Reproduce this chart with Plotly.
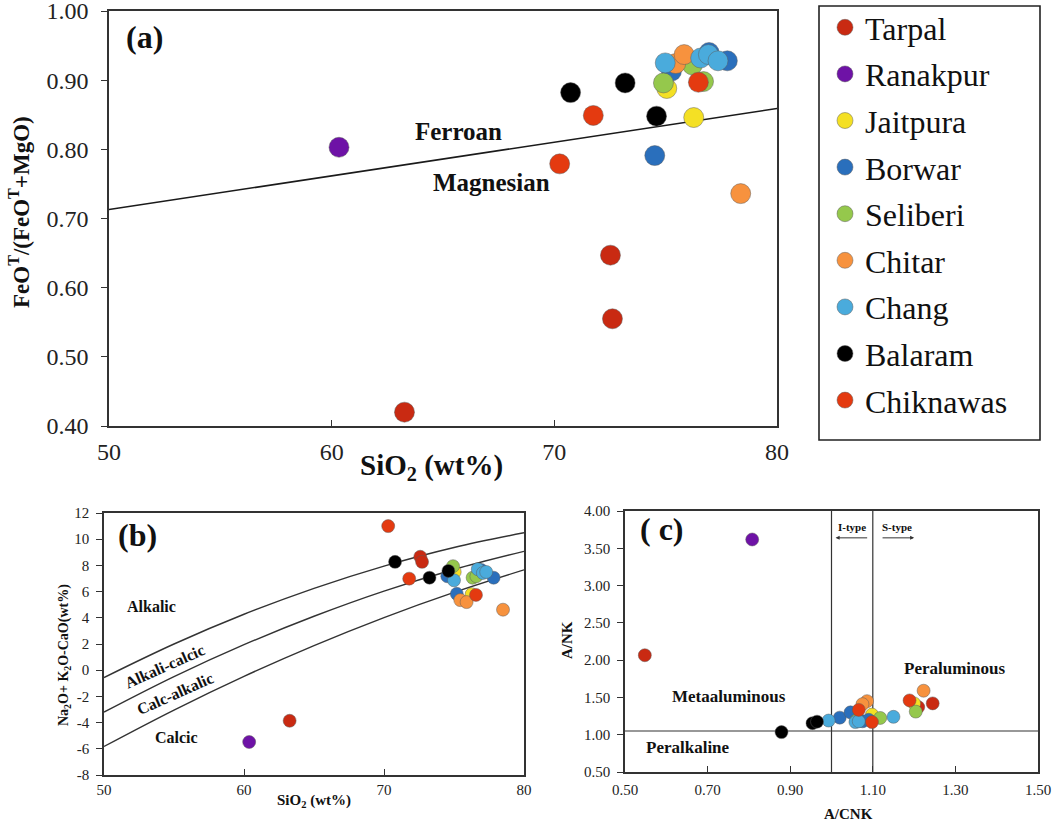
import plotly.graph_objects as go

# ---------------- data ----------------
groups = ["Tarpal", "Ranakpur", "Jaitpura", "Borwar", "Seliberi", "Chitar", "Chang", "Balaram", "Chiknawas"]
colors = ["#C92A12", "#6E12A6", "#F4E024", "#2A6FBC", "#95C84C", "#F7923E", "#4AABDC", "#000000", "#E43A10"]

# panel (a): SiO2 vs FeOT/(FeOT+MgO)
a_group = ["Tarpal", "Tarpal", "Tarpal",
           "Ranakpur",
           "Jaitpura", "Jaitpura",
           "Borwar", "Borwar", "Borwar", "Borwar",
           "Seliberi", "Seliberi", "Seliberi",
           "Chitar", "Chitar", "Chitar",
           "Chang", "Chang", "Chang", "Chang",
           "Balaram", "Balaram", "Balaram",
           "Chiknawas", "Chiknawas", "Chiknawas"]
a_sio2 = [63.27, 72.52, 72.61,
          60.33,
          76.26, 75.05,
          74.51, 75.26, 76.95, 77.77,
          74.90, 76.70, 76.20,
          78.37, 75.45, 75.83,
          74.98, 76.57, 76.92, 77.35,
          70.73, 73.18, 74.59,
          70.24, 71.75, 76.47]
a_fe = [0.420, 0.647, 0.555,
        0.803,
        0.846, 0.888,
        0.791, 0.913, 0.940, 0.928,
        0.896, 0.898, 0.922,
        0.736, 0.924, 0.937,
        0.925, 0.932, 0.937, 0.928,
        0.882, 0.896, 0.848,
        0.779, 0.849, 0.897]
a_line_sio2 = [50, 80]
a_line_fe = [0.713, 0.859]
a_xticks = [50, 60, 70, 80]
a_yticks = [0.40, 0.50, 0.60, 0.70, 0.80, 0.90, 1.00]

# panel (b): SiO2 vs MALI
b_group = a_group
b_sio2 = [63.26, 72.59, 72.72,
          60.37,
          75.05, 76.26,
          74.52, 75.20, 76.95, 77.83,
          74.93, 76.33, 76.60,
          78.50, 75.45, 75.90,
          75.00, 76.70, 77.06, 77.30,
          70.79, 73.25, 74.60,
          70.30, 71.80, 76.57]
b_mali = [-3.86, 8.66, 8.27,
          -5.48,
          7.50, 5.80,
          7.17, 5.83, 7.65, 7.06,
          7.94, 7.06, 7.17,
          4.62, 5.35, 5.20,
          6.86, 7.71, 7.42, 7.50,
          8.27, 7.06, 7.58,
          11.00, 6.99, 5.75]
b_curve_sio2 = [50, 55, 60, 65, 70, 75, 80]
b_curve_alkalic = [-0.56, 2.00, 4.27, 6.25, 7.95, 9.37, 10.49]
b_curve_alkcalcic = [-3.20, -0.49, 1.95, 4.12, 6.04, 7.69, 9.07]
b_curve_calcalk = [-5.82, -3.04, -0.47, 1.88, 4.02, 5.94, 7.66]
b_xticks = [50, 60, 70, 80]
b_yticks = [-8, -6, -4, -2, 0, 2, 4, 6, 8, 10, 12]

# panel (c): A/CNK vs A/NK
c_group = a_group
c_acnk = [0.548, 1.245, 1.210,
          0.808,
          1.098, 1.200,
          1.020, 1.046, 1.075, 1.090,
          1.060, 1.118, 1.204,
          1.223, 1.086, 1.075,
          0.993, 1.058, 1.066, 1.150,
          0.879, 0.954, 0.965,
          1.066, 1.098, 1.189]
c_ank = [2.066, 1.420, 1.370,
         3.618,
         1.270, 1.420,
         1.229, 1.300, 1.180, 1.200,
         1.190, 1.225, 1.310,
         1.590, 1.450, 1.410,
         1.190, 1.170, 1.180, 1.240,
         1.035, 1.155, 1.175,
         1.333, 1.170, 1.460]
c_hline_ank = 1.05
c_vline_itype = 1.0
c_vline_stype = 1.1
c_xticks = [0.50, 0.70, 0.90, 1.10, 1.30, 1.50]
c_yticks = [0.50, 1.00, 1.50, 2.00, 2.50, 3.00, 3.50, 4.00]

# ---------------- figure ----------------
FONT = "Liberation Serif, Times New Roman, serif"
fig = go.Figure()

def add_points(xs, ys, grp, xa, ya, size, show):
    for g, col in zip(groups, colors):
        px = [x for x, gg in zip(xs, grp) if gg == g]
        py = [y for y, gg in zip(ys, grp) if gg == g]
        fig.add_trace(go.Scatter(
            x=px, y=py, mode="markers", name=g, legendgroup=g, showlegend=show,
            xaxis=xa, yaxis=ya,
            marker=dict(color=col, size=size, line=dict(color="rgba(90,90,90,0.6)", width=0.8))))

# boundary lines
fig.add_trace(go.Scatter(x=a_line_sio2, y=a_line_fe, mode="lines", xaxis="x", yaxis="y",
                         line=dict(color="#1a1a1a", width=1.6), showlegend=False, hoverinfo="skip"))
for cy in (b_curve_alkalic, b_curve_alkcalcic, b_curve_calcalk):
    fig.add_trace(go.Scatter(x=b_curve_sio2, y=cy, mode="lines", xaxis="x2", yaxis="y2",
                             line=dict(color="#333333", width=1.4, shape="spline"),
                             showlegend=False, hoverinfo="skip"))
fig.add_trace(go.Scatter(x=[0.5, 1.5], y=[c_hline_ank, c_hline_ank], mode="lines", xaxis="x3", yaxis="y3",
                         line=dict(color="#333333", width=1.2), showlegend=False, hoverinfo="skip"))
for vx in (c_vline_itype, c_vline_stype):
    fig.add_trace(go.Scatter(x=[vx, vx], y=[0.5, 4.0], mode="lines", xaxis="x3", yaxis="y3",
                             line=dict(color="#333333", width=1.2), showlegend=False, hoverinfo="skip"))

add_points(a_sio2, a_fe, a_group, "x", "y", 20, True)
add_points(b_sio2, b_mali, b_group, "x2", "y2", 13, False)
add_points(c_acnk, c_ank, c_group, "x3", "y3", 13, False)

def xax(domain, rng, ticks, fmt, tsize, standoff):
    return dict(domain=domain, range=rng, tickmode="array", tickvals=ticks,
                ticktext=[format(t, fmt) for t in ticks],
                showgrid=False, zeroline=False, showline=True, linecolor="#333333", linewidth=1.6,
                mirror=True, ticks="inside", ticklen=6, tickcolor="#333333",
                tickfont=dict(family=FONT, size=tsize, color="#222222"),
                ticklabelstandoff=standoff, ticklabeloverflow="allow", automargin=False)

def yax(domain, rng, ticks, fmt, tsize, anchor, standoff):
    return dict(domain=domain, range=rng, tickmode="array", tickvals=ticks,
                ticktext=[format(t, fmt) for t in ticks], anchor=anchor,
                showgrid=False, zeroline=False, showline=True, linecolor="#333333", linewidth=1.6,
                mirror=True, ticks="outside", ticklen=6, tickcolor="#333333",
                tickfont=dict(family=FONT, size=tsize, color="#222222"),
                ticklabelstandoff=standoff, ticklabeloverflow="allow", automargin=False)

W, H = 1056, 827
def px_x(p): return p / W
def px_y(p): return 1 - p / H

fig.update_layout(
    width=W, height=H, margin=dict(l=0, r=0, t=0, b=0), autosize=False,
    paper_bgcolor="white", plot_bgcolor="white",
    xaxis=xax([px_x(109), px_x(777)], [50, 80], a_xticks, "d", 24, 3),
    yaxis=yax([px_y(426), px_y(11)], [0.4, 1.0], a_yticks, ".2f", 24, "x", 8),
    xaxis2=dict(xax([px_x(104), px_x(524)], [50, 80], b_xticks, "d", 15, 0), anchor="y2"),
    yaxis2=yax([px_y(775), px_y(513)], [-8, 12], b_yticks, "d", 15, "x2", 4),
    xaxis3=dict(xax([px_x(625), px_x(1038)], [0.5, 1.5], c_xticks, ".2f", 15, 3), anchor="y3"),
    yaxis3=yax([px_y(772), px_y(511)], [0.5, 4.0], c_yticks, ".2f", 15, "x3", 4),
    legend=dict(x=px_x(825), y=1.0, xanchor="left", yanchor="top",
                font=dict(family=FONT, size=32, color="#111111"),
                bgcolor="rgba(0,0,0,0)", borderwidth=0, itemsizing="trace",
                tracegroupgap=2, traceorder="grouped"),
    showlegend=True,
)

# legend box
fig.add_shape(type="rect", xref="paper", yref="paper",
              x0=px_x(819), x1=px_x(1040), y0=px_y(440), y1=px_y(6),
              line=dict(color="#222222", width=1.6), fillcolor="rgba(0,0,0,0)")

def txt(x, y, s, xref, yref, size, bold=True, angle=0, xanchor="center"):
    fig.add_annotation(x=x, y=y, text=s, xref=xref, yref=yref, showarrow=False, textangle=angle,
                       xanchor=xanchor, yanchor="middle",
                       font=dict(family=FONT, size=size, color="#111111",
                                 weight="bold" if bold else "normal"))

# panel (a) texts
txt(51.6, 0.962, "(a)", "x", "y", 32)
txt(65.7, 0.826, "Ferroan", "x", "y", 25)
txt(67.2, 0.752, "Magnesian", "x", "y", 25)
txt(px_x(431), px_y(467), "SiO<sub>2</sub> (wt%)", "paper", "paper", 29)
txt(px_x(19), px_y(212), "FeO<sup>T</sup>/(FeO<sup>T</sup>+MgO)", "paper", "paper", 23, angle=-90)

# panel (b) texts
txt(52.4, 10.3, "(b)", "x2", "y2", 32)
txt(53.4, 4.85, "Alkalic", "x2", "y2", 16)
txt(54.3, 0.3, "Alkali-calcic", "x2", "y2", 16, angle=-24)
txt(55.1, -1.75, "Calc-alkalic", "x2", "y2", 16, angle=-24)
txt(55.2, -5.15, "Calcic", "x2", "y2", 16)
txt(px_x(314), px_y(801), "SiO<sub>2</sub> (wt%)", "paper", "paper", 15)
txt(px_x(64), px_y(655), "Na<sub>2</sub>O+ K<sub>2</sub>O-CaO(wt%)", "paper", "paper", 14, angle=-90)

# panel (c) texts
txt(0.59, 3.76, "( c)", "x3", "y3", 32)
txt(1.297, 1.89, "Peraluminous", "x3", "y3", 17)
txt(0.751, 1.51, "Metaaluminous", "x3", "y3", 17)
txt(0.652, 0.83, "Peralkaline", "x3", "y3", 17)
txt(1.05, 3.79, "I-type", "x3", "y3", 11)
txt(1.158, 3.79, "S-type", "x3", "y3", 11)
txt(px_x(848), px_y(814), "A/CNK", "paper", "paper", 15)
txt(px_x(567), px_y(640), "A/NK", "paper", "paper", 15, angle=-90)

for head, tail in ((1.01, 1.09), (1.20, 1.12)):
    fig.add_annotation(x=head, y=3.64, ax=tail, ay=3.64, xref="x3", yref="y3", axref="x3", ayref="y3",
                       text="", showarrow=True, arrowhead=2, arrowsize=0.8, arrowwidth=1, arrowcolor="#333333")

fig.write_html("out.html", config={"displayModeBar": False},
               post_script="document.body.style.margin='0';document.body.style.padding='0';")
